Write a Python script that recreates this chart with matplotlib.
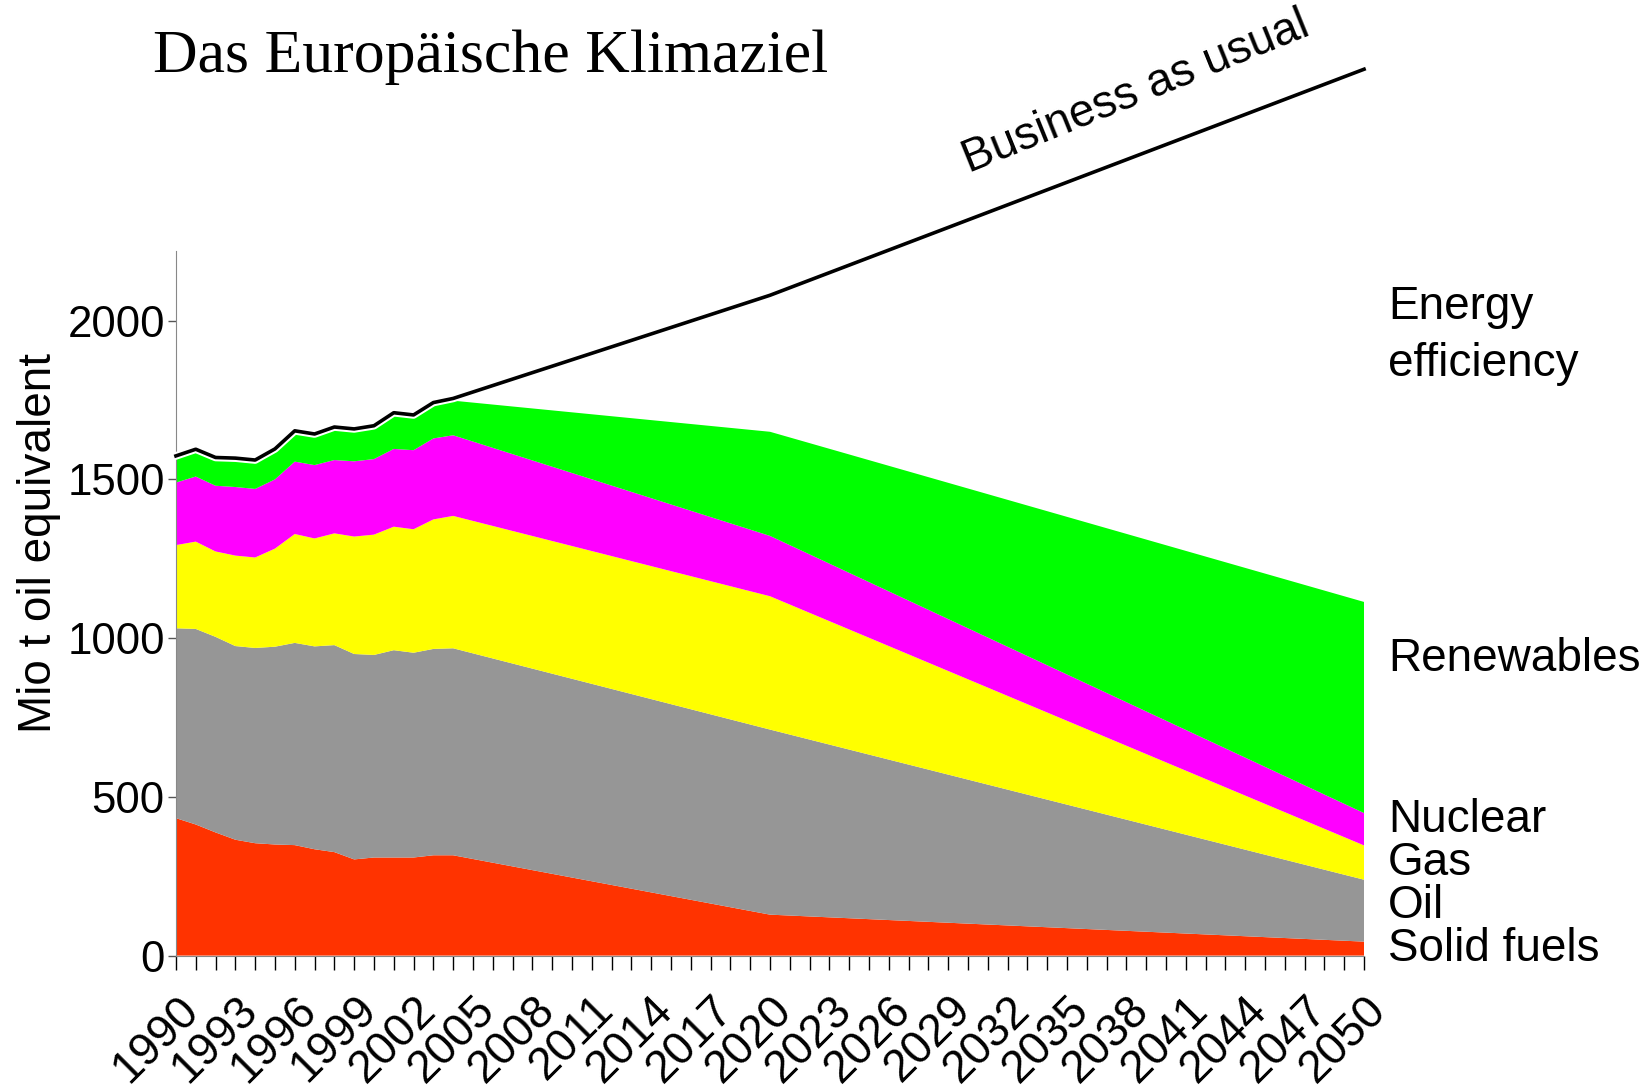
import matplotlib
matplotlib.use("Agg")
import matplotlib.pyplot as plt
import matplotlib.patheffects as pe
import numpy as np

# years with data points (yearly until 2004, then projections)
years = [1990, 1991, 1992, 1993, 1994, 1995, 1996, 1997, 1998, 1999,
         2000, 2001, 2002, 2003, 2004, 2020, 2050]

# Mio t oil equivalent per energy source
solid_fuels = [433, 413, 388, 365, 354, 350, 348, 335, 326, 303,
               309, 309, 309, 316, 316, 129, 44]
oil = [598, 616, 616, 610, 615, 623, 637, 639, 652, 647,
       638, 653, 645, 650, 652, 583, 195]
gas = [262, 275, 269, 285, 285, 309, 343, 340, 352, 370,
       379, 389, 389, 408, 417, 420, 108]
nuclear = [197, 205, 207, 216, 216, 218, 228, 231, 231, 237,
           238, 245, 249, 255, 254, 190, 102]
renewables = [74, 77, 80, 81, 81, 87, 88, 89, 95, 93,
              96, 104, 102, 104, 109, 328, 665]

bau_years = [1990, 1991, 1992, 1993, 1994, 1995, 1996, 1997, 1998, 1999,
             2000, 2001, 2002, 2003, 2004, 2020, 2050]
bau = [1574, 1595, 1569, 1567, 1561, 1596, 1653, 1643, 1665, 1659,
       1669, 1710, 1703, 1742, 1755, 2080, 2792]

colors = ["#ff3300", "#969696", "#ffff00", "#ff00ff", "#00ff00"]

plt.rcParams['font.family'] = ['Liberation Sans', 'DejaVu Sans']

fig = plt.figure(figsize=(16.52, 10.89), dpi=100)
ax = fig.add_axes([0.1065, 0.1225, 0.7192, 0.6466])

ax.stackplot(years, solid_fuels, oil, gas, nuclear, renewables,
             colors=colors, linewidth=0)

ax.plot(bau_years, bau, color="black", lw=2.6, clip_on=False, zorder=5,
        path_effects=[pe.Stroke(linewidth=5.5, foreground="white"), pe.Normal()])

ax.set_xlim(1990, 2050)
ax.set_ylim(0, 2218)

ax.spines['top'].set_visible(False)
ax.spines['right'].set_visible(False)
ax.spines['left'].set_color("#888888")
ax.spines['bottom'].set_color("#888888")

ax.set_yticks([0, 500, 1000, 1500, 2000])
ax.tick_params(axis='y', length=6, width=1, color="#555555", labelsize=31.5, pad=2)

ax.set_xticks(range(1990, 2051, 3))
ax.set_xticks(range(1990, 2051), minor=True)
ax.tick_params(axis='x', which='both', length=10, width=1, color="black")
ax.set_xticklabels([str(y) for y in range(1990, 2051, 3)], rotation=45,
                   ha='right', rotation_mode='anchor', fontsize=33)
ax.tick_params(axis='x', which='major', pad=13)

fig.text(0.0236, 0.501, "Mio t oil equivalent", rotation=90, fontsize=33,
         ha='center', va='center')

fig.text(0.297, 0.947, "Das Europäische Klimaziel", fontsize=44.5,
         family='Liberation Serif', ha='center', va='center')

fig.text(0.6877, 0.9146, "Business as usual", fontsize=33, rotation=22,
         ha='center', va='center')

# labels on the right side
ax.text(2051.2, 2006, "Energy", fontsize=33, va='baseline', clip_on=False)
ax.text(2051.2, 1826, "efficiency", fontsize=33, va='baseline', clip_on=False)
ax.text(2051.2, 896, "Renewables", fontsize=33, va='baseline', clip_on=False)
ax.text(2051.2, 388, "Nuclear", fontsize=33, va='baseline', clip_on=False)
ax.text(2051.2, 254, "Gas", fontsize=33, va='baseline', clip_on=False)
ax.text(2051.2, 118, "Oil", fontsize=33, va='baseline', clip_on=False)
ax.text(2051.2, -16, "Solid fuels", fontsize=33, va='baseline', clip_on=False)

fig.savefig("out.png", dpi=100)
